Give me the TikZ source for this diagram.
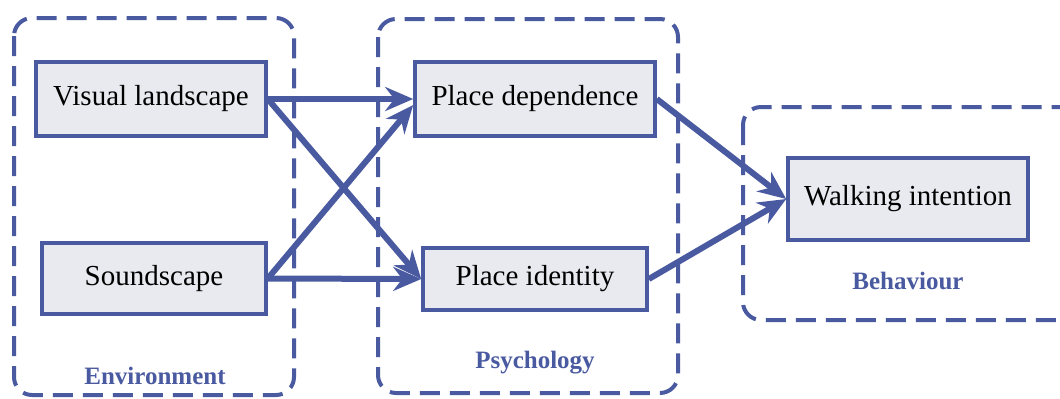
\documentclass[tikz,border=0pt]{standalone}
\usepackage{fontspec}
\setmainfont{Liberation Serif}
\usetikzlibrary{arrows.meta}

\definecolor{frameblue}{HTML}{4A5AA0}
\definecolor{boxgray}{HTML}{E8EAEF}

\tikzset{
    factor/.style={draw=frameblue, fill=boxgray, line width=1.8pt, inner sep=0pt,
        font=\fontsize{14.5}{17}\selectfont},
    group/.style={draw=frameblue, line width=2pt, dash pattern=on 10pt off 5pt,
        rounded corners=9pt},
    grouplabel/.style={text=frameblue, font=\fontsize{12.5}{15}\selectfont\bfseries},
    link/.style={draw=frameblue, line width=3pt, -{Stealth[length=14pt,width=12pt]}}
}

\begin{document}
\begin{tikzpicture}[x=0.5pt,y=-0.5pt]
    \useasboundingbox (0,0) rectangle (1060,398);

    % Dashed groups
    \draw[group] (14,18) rectangle (294,395);
    \draw[group] (378,19) rectangle (678,393);
    \draw[group] (743,107) rectangle (1090,320);

    % Group labels
    \node[grouplabel] (env) at (155,376) {Environment};
    \node[grouplabel] (psy) at (535,363) {Psychology};
    \node[grouplabel] (beh) at (908,281) {Behaviour};

    % Factors
    \node[factor, minimum width=115pt, minimum height=37pt] (visual) at (151,99) {Visual landscape};
    \node[factor, minimum width=112pt, minimum height=35.5pt] (sound) at (154,278.5) {Soundscape};
    \node[factor, minimum width=120pt, minimum height=37pt] (depend) at (535,99) {Place dependence};
    \node[factor, minimum width=112pt, minimum height=31pt] (ident) at (535,279) {Place identity};
    \node[factor, minimum width=120pt, minimum height=41pt] (walk) at (908,199) {Walking intention};

    % Paths
    \draw[link] (visual.east) -- (depend.west);
    \draw[link] (visual.east) -- (ident.west);
    \draw[link] (sound.east) -- ([yshift=-3pt]depend.west);
    \draw[link] (sound.east) -- (ident.west);
    \draw[link] (depend.east) -- (walk.west);
    \draw[link] (ident.east) -- (walk.west);

\end{tikzpicture}
\end{document}
